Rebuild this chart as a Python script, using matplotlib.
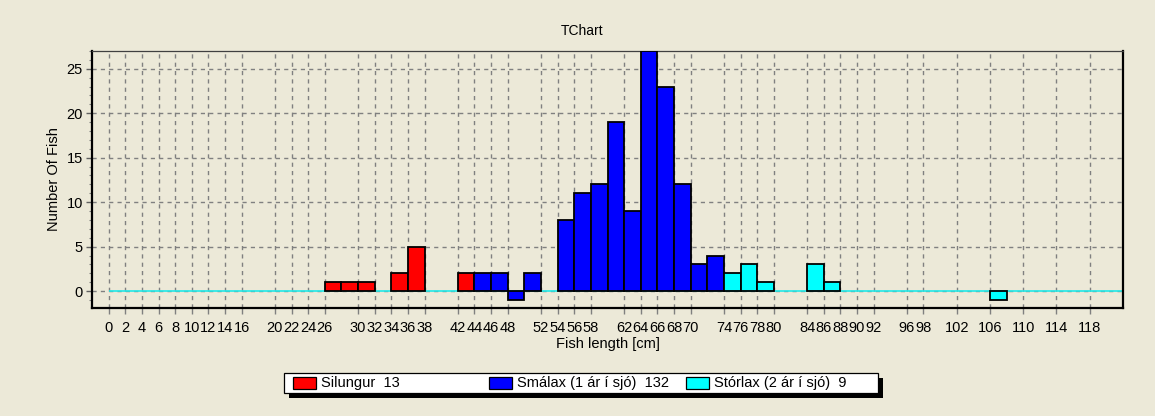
import matplotlib.pyplot as plt
from matplotlib.patches import Rectangle
from matplotlib.ticker import MultipleLocator, FixedLocator

plt.rcParams["font.family"] = ["Liberation Sans", "DejaVu Sans"]

# Length classes (left edge of 2 cm bins) and fish counts per series
silungur_len = [26, 28, 30, 34, 36, 42]
silungur_cnt = [1, 1, 1, 2, 5, 2]

smalax_len = [44, 46, 48, 50, 54, 56, 58, 60, 62, 64, 66, 68, 70, 72]
smalax_cnt = [2, 2, -1, 2, 8, 11, 12, 19, 9, 27, 23, 12, 3, 4]

storlax_len = [74, 76, 78, 84, 86, 106]
storlax_cnt = [2, 3, 1, 3, 1, -1]

# Labels shown on the x axis
x_labels = [0, 2, 4, 6, 8, 10, 12, 14, 16, 20, 22, 24, 26, 30, 32, 34, 36, 38,
            42, 44, 46, 48, 52, 54, 56, 58, 62, 64, 66, 68, 70, 74, 76, 78, 80,
            84, 86, 88, 90, 92, 96, 98, 102, 106, 110, 114, 118]
y_ticks = [0, 5, 10, 15, 20, 25]

legend_labels = ["Silungur  13", "Smálax (1 ár í sjó)  132", "Stórlax (2 ár í sjó)  9"]
colors = ["#FF0000", "#0000FF", "#00FFFF"]

BG = "#ECE9D8"
W, H = 1155, 416


def fx(px):
    return px / W


def fy(py):
    return 1 - py / H


fig = plt.figure(figsize=(W / 100, H / 100), dpi=100, facecolor=BG)
ax = fig.add_axes([fx(92), fy(308), fx(1123) - fx(92), fy(51) - fy(308)])
ax.set_facecolor(BG)

ax.set_xlim(-2, 122)
ax.set_ylim(-1.9, 27)

# zero line
ax.hlines(0, 0, 122, colors="#20E8E8", lw=1.2, zorder=2)

series = [(silungur_len, silungur_cnt), (smalax_len, smalax_cnt), (storlax_len, storlax_cnt)]
for (xs, ys), c in zip(series, colors):
    ax.bar(xs, ys, width=2, align="edge", color=c, edgecolor="black",
           linewidth=1.3, zorder=3)

ax.xaxis.set_major_locator(FixedLocator(x_labels))
ax.set_xticklabels([str(v) for v in x_labels])
ax.yaxis.set_major_locator(FixedLocator(y_ticks))
ax.yaxis.set_minor_locator(MultipleLocator(1))

ax.grid(True, which="major", color="#808080", linestyle=(0, (3, 3)), lw=1.0, zorder=1)
ax.set_axisbelow(True)

ax.tick_params(axis="x", which="major", direction="out", length=4.5, width=1,
               color="#808080", labelsize=10.5, pad=5)
ax.tick_params(axis="y", which="major", direction="out", length=4.5, width=1,
               color="#606060", labelsize=10.5, pad=2)
ax.tick_params(axis="y", which="minor", direction="out", length=2, width=0.8,
               color="#808080")

for side in ["left", "bottom", "right"]:
    ax.spines[side].set_color("black")
    ax.spines[side].set_linewidth(1.6)
ax.spines["top"].set_color("#404040")
ax.spines["top"].set_linewidth(0.9)

ax.set_xlabel("Fish length [cm]", fontsize=10.5, labelpad=1)
ax.set_ylabel("Number Of Fish", fontsize=10.5, labelpad=4)
fig.text(fx(582), fy(31), "TChart", ha="center", va="center", fontsize=10)

# legend box with shadow, equal-width columns like TeeChart
lx0, lx1, ly0, ly1 = 284, 878, 373, 393
fig.add_artist(Rectangle((fx(lx0 + 5), fy(ly1 + 5)), fx(lx1) - fx(lx0), fy(ly0) - fy(ly1),
                         transform=fig.transFigure, facecolor="black", edgecolor="none"))
fig.add_artist(Rectangle((fx(lx0), fy(ly1)), fx(lx1) - fx(lx0), fy(ly0) - fy(ly1),
                         transform=fig.transFigure, facecolor="white", edgecolor="black", lw=0.9))
for i, (lab, c) in enumerate(zip(legend_labels, colors)):
    sx = 293 + i * 196.3
    fig.add_artist(Rectangle((fx(sx), fy(389)), fx(23), fy(377) - fy(389),
                             transform=fig.transFigure, facecolor=c, edgecolor="black", lw=0.9))
    fig.text(fx(sx + 28), fy(383.5), lab, ha="left", va="center", fontsize=10.5)

fig.savefig("out.png", dpi=100, facecolor=BG)
